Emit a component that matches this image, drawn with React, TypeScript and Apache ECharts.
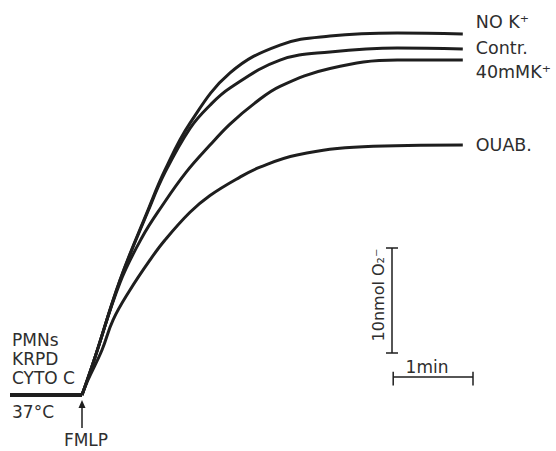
import React, { useEffect, useRef } from "react";
import * as echarts from "echarts";

// time (min) after FMLP addition, O2- produced (nmol)
const T_NOK = [0, 0.15, 0.475, 0.825, 1.0375, 1.35, 1.85, 2.475, 3.1, 3.94, 4.76];
const V_NOK = [0, 3.3, 10.95, 17.62, 21.43, 25.9, 30.67, 33.33, 34.19, 34.48, 34.38];

const T_CONTR = [0, 0.15, 0.475, 0.825, 1.0375, 1.35, 1.6, 1.85, 2.475, 3.1, 3.94, 4.76];
const V_CONTR = [0, 3.3, 10.9, 17.5, 21.2, 25.4, 27.6, 29.24, 31.9, 32.67, 33.05, 32.95];

const T_K40 = [0, 0.15, 0.475, 0.75, 1.0, 1.3, 1.6, 1.85, 2.16, 2.475, 3.1, 3.94, 4.76];
const V_K40 = [0, 3.3, 10.7, 15.0, 18.0, 21.2, 23.8, 25.8, 27.8, 29.4, 31.1, 31.9, 31.9];

const T_OUAB = [0, 0.075, 0.25, 0.3875, 0.6, 0.85, 1.0375, 1.35, 1.6, 1.975, 2.225, 2.6875, 3.5125, 4.76];
const V_OUAB = [0, 1.43, 4.29, 7.14, 10.0, 12.86, 14.76, 17.4, 19.0, 20.75, 21.7, 22.85, 23.65, 23.81];

const T_BASE = [-0.9, 0];
const V_BASE = [0, 0];

const NAMES = ["NO K\u207A", "Contr.", "40mMK\u207A", "OUAB."];

// scale bars: 10 nmol O2- and 1 min
const VBAR_T = 3.875;
const VBAR_V = [4, 14];
const HBAR_T = [3.89, 4.8875];
const HBAR_V = 1.714;

const INK = "#1e1e1e";
const TXT = "#2e2e2e";
const FONT = "DejaVu Sans";

const zip = (t: number[], v: number[]) => t.map((x, i) => [x, v[i]]);

export default function App() {
  const ref = useRef<HTMLDivElement>(null);
  useEffect(() => {
    if (!ref.current) return;
    const chart = echarts.init(ref.current, null, { renderer: "svg" });
    const curve = (name: string, t: number[], v: number[], dy: number) => ({
      type: "line",
      name,
      data: zip(t, v),
      smooth: 0.4,
      showSymbol: false,
      lineStyle: { color: INK, width: 3 },
      endLabel: {
        show: true,
        formatter: name,
        distance: 13,
        offset: [0, dy],
        color: TXT,
        fontFamily: FONT,
        fontSize: 17.5,
      },
      z: 3,
    });
    const seg = (pts: number[][], w: number) => ({
      type: "line",
      data: pts,
      showSymbol: false,
      lineStyle: { color: INK, width: w },
      silent: true,
    });
    const capW = 0.075;
    chart.setOption({
      animation: false,
      grid: { left: 10, right: 74, top: 17, bottom: 56 },
      xAxis: { type: "value", min: -0.9, max: 5, show: false },
      yAxis: { type: "value", min: 0, max: 36, show: false },
      series: [
        seg(zip(T_BASE, V_BASE), 4),
        curve(NAMES[0], T_NOK, V_NOK, -12),
        curve(NAMES[1], T_CONTR, V_CONTR, -1),
        curve(NAMES[2], T_K40, V_K40, 12),
        curve(NAMES[3], T_OUAB, V_OUAB, 0),
        seg([[VBAR_T, VBAR_V[0]], [VBAR_T, VBAR_V[1]]], 1.5),
        seg([[VBAR_T - capW, VBAR_V[1]], [VBAR_T + capW, VBAR_V[1]]], 1.5),
        seg([[VBAR_T - capW, VBAR_V[0]], [VBAR_T + capW, VBAR_V[0]]], 1.5),
        seg([[HBAR_T[0], HBAR_V], [HBAR_T[1], HBAR_V]], 1.5),
        seg([[HBAR_T[0], HBAR_V - 0.8], [HBAR_T[0], HBAR_V + 0.5]], 1.5),
        seg([[HBAR_T[1], HBAR_V - 0.8], [HBAR_T[1], HBAR_V + 0.5]], 1.5),
      ],
      graphic: [
        { type: "text", left: 12, top: 331, style: { text: "PMNs", font: `17px "${FONT}"`, fill: TXT } },
        { type: "text", left: 12, top: 350, style: { text: "KRPD", font: `17px "${FONT}"`, fill: TXT } },
        { type: "text", left: 12, top: 369, style: { text: "CYTO C", font: `17px "${FONT}"`, fill: TXT } },
        { type: "text", left: 12, top: 403, style: { text: "37°C", font: `17px "${FONT}"`, fill: TXT } },
        { type: "polygon", shape: { points: [[82, 400], [78.5, 408], [85.5, 408]] }, style: { fill: INK } },
        { type: "line", shape: { x1: 82, y1: 407, x2: 82, y2: 428 }, style: { stroke: INK, lineWidth: 1.5 } },
        { type: "text", x: 86, y: 440, style: { text: "FMLP", font: `17px "${FONT}"`, fill: TXT, align: "center", verticalAlign: "middle" } },
        { type: "text", x: 427, y: 367, style: { text: "1min", font: `17px "${FONT}"`, fill: TXT, align: "center", verticalAlign: "middle" } },
        { type: "text", x: 378, y: 295, rotation: Math.PI / 2, style: { text: "10nmol O\u2082\u207B", font: `16px "${FONT}"`, fill: TXT, align: "center", verticalAlign: "middle" } },
      ],
    });
    return () => chart.dispose();
  }, []);
  return <div ref={ref} style={{ position: "fixed", left: 0, top: 0, width: 556, height: 451, background: "#fff" }} />;
}
